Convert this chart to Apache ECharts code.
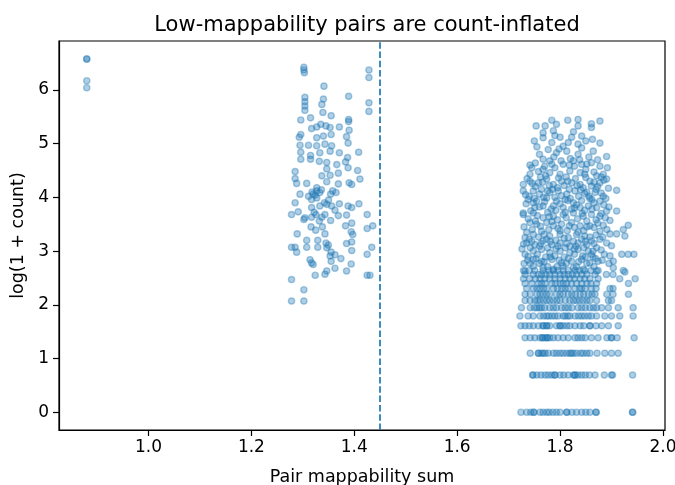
<!DOCTYPE html>
<html>
<head>
<meta charset="utf-8">
<script src="https://cdn.jsdelivr.net/npm/echarts@6/dist/echarts.min.js"></script>
<style>
  html, body { margin: 0; padding: 0; background: #fff; }
  #chart { width: 675px; height: 485px; }
</style>
</head>
<body>
<div id="chart"></div>
<script>
// tick labels
var xTicks = [1.0, 1.2, 1.4, 1.6, 1.8, 2.0];
var yTicks = [0, 1, 2, 3, 4, 5, 6];
var cutoff = 1.45;

// pairs far to the left
var farLeft = [[0.88, 6.57], [0.88, 6.58], [0.88, 6.17], [0.88, 6.04]];

// middle band, x ~ 1.28 - 1.44
var midBand = [
    [1.302, 6.42], [1.302, 6.37], [1.303, 6.32], [1.4285, 6.37], [1.4285, 6.23], [1.341, 6.07],
    [1.304, 5.86], [1.304, 5.78], [1.304, 5.70], [1.304, 5.62], [1.340, 5.83], [1.389, 5.88], [1.337, 5.73],
    [1.4285, 5.76], [1.4285, 5.60], [1.339, 5.58], [1.355, 5.52], [1.296, 5.44], [1.315, 5.48], [1.389, 5.45], [1.389, 5.41],
    [1.335, 5.36], [1.327, 5.31], [1.317, 5.28], [1.345, 5.33], [1.353, 5.30], [1.371, 5.31], [1.390, 5.25],
    [1.296, 5.17], [1.293, 5.12], [1.327, 5.11], [1.340, 5.14], [1.355, 5.17], [1.385, 5.13],
    [1.311, 4.97], [1.2945, 4.97], [1.327, 4.96], [1.343, 4.99], [1.356, 4.96], [1.388, 5.01],
    [1.296, 4.84], [1.315, 4.78], [1.333, 4.83], [1.353, 4.86], [1.371, 4.83], [1.4085, 4.84],
    [1.296, 4.71], [1.315, 4.71], [1.332, 4.67], [1.3465, 4.65], [1.387, 4.74], [1.383, 4.66],
    [1.285, 4.48], [1.3465, 4.53], [1.366, 4.61], [1.4065, 4.50], [1.388, 4.55],
    [1.285, 4.35], [1.337, 4.40], [1.353, 4.41], [1.369, 4.45], [1.395, 4.24], [1.411, 4.34], [1.3075, 4.26], [1.288, 4.26], [1.3465, 4.29],
    [1.327, 4.18], [1.369, 4.25], [1.390, 4.27],
    [1.2945, 4.06], [1.311, 4.02], [1.320, 4.06], [1.327, 4.12], [1.333, 4.09], [1.317, 3.96], [1.358, 4.12], [1.3645, 4.09], [1.354, 4.06], [1.327, 3.99],
    [1.285, 3.90], [1.317, 3.81], [1.333, 3.84], [1.3465, 3.87], [1.356, 3.84], [1.371, 3.88], [1.388, 3.84], [1.395, 3.81], [1.409, 3.88], [1.3625, 3.76],
    [1.278, 3.68], [1.291, 3.73], [1.304, 3.62], [1.317, 3.63], [1.3255, 3.68], [1.337, 3.63], [1.343, 3.68], [1.369, 3.66], [1.385, 3.67], [1.425, 3.68],
    [1.302, 3.59], [1.332, 3.56], [1.354, 3.57], [1.383, 3.47], [1.395, 3.52], [1.394, 3.36], [1.425, 3.42], [1.436, 3.47],
    [1.289, 3.32], [1.325, 3.39], [1.343, 3.32], [1.397, 3.31],
    [1.3075, 3.20], [1.329, 3.20], [1.345, 3.15], [1.3495, 3.11], [1.385, 3.14], [1.395, 3.17],
    [1.278, 3.07], [1.285, 3.07], [1.3075, 3.07], [1.329, 3.07], [1.3465, 3.06], [1.434, 3.07],
    [1.288, 2.98], [1.355, 2.98], [1.3625, 2.93], [1.353, 2.91], [1.395, 3.01], [1.425, 2.94],
    [1.314, 2.84], [1.317, 2.78], [1.320, 2.75], [1.355, 2.81], [1.374, 2.86], [1.394, 2.76],
    [1.3465, 2.63], [1.343, 2.57], [1.3625, 2.68], [1.385, 2.63], [1.324, 2.55], [1.425, 2.55], [1.4305, 2.55],
    [1.278, 2.47], [1.302, 2.28], [1.278, 2.07], [1.302, 2.07],
    [1.318, 4.10], [1.324, 4.04], [1.336, 4.14], [1.350, 3.95], [1.342, 3.90], [1.322, 3.72], [1.338, 3.45], [1.316, 3.45]
];

// right band, upper part (x ~ 1.72 - 1.94)
var rightUpper = [
    [1.784, 5.435], [1.815, 5.435], [1.835, 5.45], [1.861, 5.37], [1.8775, 5.42], [1.7535, 5.33], [1.771, 5.33], [1.793, 5.36], [1.835, 5.33], [1.861, 5.30],
    [1.767, 5.20], [1.787, 5.24], [1.800, 5.12], [1.8225, 5.12], [1.842, 5.14], [1.863, 5.08], [1.8775, 5.01], [1.767, 5.11], [1.835, 4.99], [1.784, 5.02], [1.816, 5.02],
    [1.755, 4.94], [1.777, 4.89], [1.793, 4.83], [1.813, 4.86], [1.835, 4.80], [1.8645, 4.86], [1.8905, 4.76],
    [1.7415, 4.60], [1.767, 4.71], [1.784, 4.615], [1.806, 4.615], [1.826, 4.68], [1.842, 4.615], [1.861, 4.645], [1.8775, 4.58], [1.892, 4.55],
    [1.7415, 4.43], [1.767, 4.52], [1.780, 4.46], [1.800, 4.43], [1.819, 4.49], [1.839, 4.46], [1.848, 4.43], [1.871, 4.40], [1.884, 4.43], [1.8905, 4.34],
    [1.7285, 4.24], [1.7415, 4.30], [1.758, 4.27], [1.774, 4.34], [1.787, 4.24], [1.803, 4.30], [1.8225, 4.27], [1.839, 4.24], [1.858, 4.30], [1.861, 4.21], [1.8775, 4.27], [1.894, 4.17], [1.910, 4.13],
    [1.7285, 4.12], [1.748, 4.12], [1.764, 4.15], [1.780, 4.09], [1.7965, 4.12], [1.813, 4.06], [1.829, 4.12], [1.848, 4.07], [1.868, 4.09], [1.884, 4.02],
    [1.738, 3.96], [1.7545, 3.93], [1.774, 3.99], [1.793, 3.93], [1.810, 3.96], [1.826, 3.90], [1.842, 3.94], [1.858, 3.98], [1.8775, 3.93],
    [1.751, 3.81], [1.767, 3.84], [1.787, 3.84], [1.806, 3.81], [1.8225, 3.78], [1.839, 3.81], [1.855, 3.84], [1.871, 3.81], [1.910, 3.745], [1.7285, 3.71], [1.8905, 3.745],
    [1.7285, 3.68], [1.748, 3.71], [1.767, 3.62], [1.787, 3.65], [1.806, 3.68], [1.826, 3.71], [1.845, 3.65], [1.861, 3.68], [1.8775, 3.65], [1.897, 3.57],
    [1.7415, 3.53], [1.7545, 3.50], [1.774, 3.53], [1.787, 3.47], [1.803, 3.50], [1.8225, 3.53], [1.839, 3.47], [1.858, 3.47], [1.8775, 3.37], [1.897, 3.32], [1.910, 3.32], [1.923, 3.40], [1.9325, 3.48],
    [1.732, 3.25], [1.748, 3.31], [1.764, 3.37], [1.780, 3.28], [1.800, 3.31], [1.816, 3.25], [1.832, 3.31], [1.848, 3.28], [1.861, 3.19], [1.8775, 3.22], [1.926, 3.28],
    [1.735, 3.15], [1.751, 3.12], [1.767, 3.19], [1.784, 3.12], [1.800, 3.15], [1.819, 3.09], [1.835, 3.15], [1.852, 3.12], [1.871, 3.06], [1.8905, 3.15],
    [1.732, 2.94], [1.748, 3.00], [1.764, 3.03], [1.780, 2.97], [1.800, 3.00], [1.819, 2.97], [1.835, 3.03], [1.855, 3.00], [1.861, 2.94], [1.897, 2.91],
    [1.920, 2.94], [1.9325, 2.94], [1.9435, 2.94], [1.9035, 2.81], [1.9035, 2.69],
    [1.748, 2.845], [1.764, 2.81], [1.784, 2.845], [1.803, 2.78], [1.8225, 2.81], [1.842, 2.845], [1.858, 2.78], [1.874, 2.81],
    [1.732, 2.63], [1.748, 2.72], [1.767, 2.69], [1.787, 2.66], [1.806, 2.72], [1.826, 2.69], [1.845, 2.66], [1.871, 2.63], [1.926, 2.61],
    [1.745, 4.55], [1.758, 4.48], [1.772, 4.40], [1.790, 4.55], [1.812, 4.38], [1.828, 4.58], [1.850, 4.52], [1.866, 4.47],
    [1.736, 4.35], [1.752, 4.20], [1.766, 4.28], [1.795, 4.18], [1.808, 4.22], [1.830, 4.35], [1.845, 4.18], [1.870, 4.15], [1.885, 4.32],
    [1.740, 4.02], [1.760, 4.06], [1.776, 4.12], [1.790, 4.00], [1.818, 4.15], [1.836, 4.02], [1.852, 4.10], [1.862, 3.96], [1.880, 4.08],
    [1.734, 3.88], [1.748, 3.90], [1.770, 3.92], [1.783, 3.78], [1.800, 3.88], [1.815, 3.94], [1.832, 3.86], [1.848, 3.76], [1.866, 3.90], [1.885, 3.86],
    [1.738, 3.60], [1.756, 3.66], [1.776, 3.72], [1.795, 3.58], [1.812, 3.62], [1.834, 3.60], [1.852, 3.56], [1.870, 3.58], [1.888, 3.62],
    [1.730, 3.45], [1.746, 3.40], [1.762, 3.46], [1.778, 3.40], [1.796, 3.42], [1.814, 3.38], [1.828, 3.44], [1.846, 3.38], [1.866, 3.44], [1.884, 3.48],
    [1.740, 3.22], [1.758, 3.26], [1.774, 3.22], [1.792, 3.20], [1.808, 3.24], [1.826, 3.18], [1.842, 3.22], [1.858, 3.26], [1.870, 3.30], [1.900, 3.10],
    [1.726, 3.04], [1.742, 3.06], [1.760, 3.09], [1.776, 3.06], [1.792, 3.04], [1.810, 3.06], [1.828, 3.04], [1.846, 3.06], [1.864, 3.00], [1.880, 3.02],
    [1.738, 2.90], [1.756, 2.94], [1.772, 2.89], [1.790, 2.91], [1.808, 2.89], [1.828, 2.94], [1.844, 2.91], [1.864, 2.89], [1.882, 2.83],
    [1.730, 2.77], [1.742, 2.77], [1.760, 2.77], [1.776, 2.71], [1.794, 2.71], [1.812, 2.77], [1.832, 2.71], [1.852, 2.77], [1.866, 2.71], [1.895, 2.77],
    [1.750, 5.05], [1.790, 5.15], [1.826, 5.22], [1.850, 5.05], [1.806, 4.95], [1.760, 4.80], [1.820, 4.72], [1.856, 4.75], [1.780, 4.68],
    [1.737, 2.83], [1.753, 2.86], [1.769, 2.80], [1.781, 2.89], [1.798, 2.83], [1.816, 2.86], [1.836, 2.80], [1.849, 2.89], [1.869, 2.86], [1.886, 2.94],
    [1.729, 3.13], [1.745, 3.18], [1.763, 3.14], [1.781, 3.18], [1.796, 3.09], [1.813, 3.14], [1.831, 3.09], [1.849, 3.18], [1.866, 3.14], [1.883, 3.26],
    [1.735, 3.35], [1.752, 3.56], [1.769, 3.31], [1.784, 3.55], [1.800, 3.38], [1.818, 3.47], [1.835, 3.35], [1.852, 3.45], [1.873, 3.52], [1.891, 3.40],
    [1.743, 3.75], [1.760, 3.82], [1.779, 3.64], [1.792, 3.76], [1.810, 3.72], [1.828, 3.80], [1.843, 3.70], [1.862, 3.78], [1.880, 3.70], [1.895, 3.82],
    [1.733, 4.05], [1.750, 3.98], [1.768, 4.00], [1.785, 4.15], [1.803, 4.03], [1.820, 3.98], [1.840, 4.14], [1.856, 4.02], [1.873, 4.20], [1.889, 3.98],
    [1.746, 4.26], [1.762, 4.38], [1.779, 4.22], [1.797, 4.36], [1.815, 4.30], [1.833, 4.22], [1.850, 4.37], [1.866, 4.28], [1.880, 4.38],
    [1.752, 4.64], [1.770, 4.58], [1.788, 4.75], [1.802, 4.68], [1.818, 4.60], [1.838, 4.70], [1.852, 4.62], [1.873, 4.70], [1.798, 4.90], [1.842, 4.92]
];

// right band, low counts sit on discrete rows: log(1 + n), n = 0..13
var levelY = [0, 0.693, 1.099, 1.386, 1.609, 1.792, 1.946, 2.079, 2.197, 2.303, 2.398, 2.485, 2.565, 2.639];
var levelX = [
    [1.724, 1.735, 1.743, 1.749, 1.761, 1.767, 1.774, 1.779, 1.786, 1.793, 1.800, 1.813, 1.823, 1.832, 1.842, 1.850, 1.858, 1.870, 1.941, 1.749, 1.813, 1.870, 1.941],
    [1.747, 1.755, 1.763, 1.771, 1.777, 1.784, 1.790, 1.800, 1.807, 1.816, 1.826, 1.829, 1.835, 1.842, 1.849, 1.857, 1.868, 1.886, 1.900, 1.902, 1.941, 1.747, 1.790, 1.829],
    [1.742, 1.758, 1.764, 1.771, 1.777, 1.787, 1.793, 1.800, 1.806, 1.813, 1.819, 1.826, 1.832, 1.845, 1.852, 1.858, 1.872, 1.887, 1.900, 1.913, 1.758, 1.767, 1.822, 1.840],
    [1.732, 1.742, 1.751, 1.761, 1.766, 1.771, 1.775, 1.780, 1.787, 1.796, 1.806, 1.816, 1.829, 1.835, 1.842, 1.849, 1.861, 1.874, 1.891, 1.900, 1.911, 1.944, 1.766, 1.775, 1.900],
    [1.724, 1.732, 1.740, 1.748, 1.758, 1.767, 1.774, 1.780, 1.793, 1.800, 1.806, 1.813, 1.819, 1.829, 1.839, 1.846, 1.858, 1.870, 1.881, 1.894, 1.913, 1.767, 1.774, 1.800, 1.858],
    [1.722, 1.738, 1.761, 1.774, 1.784, 1.790, 1.806, 1.810, 1.819, 1.829, 1.842, 1.855, 1.861, 1.871, 1.887, 1.900, 1.916, 1.942, 1.748, 1.768, 1.796, 1.836, 1.848, 1.778, 1.815],
    [1.725, 1.742, 1.755, 1.764, 1.780, 1.793, 1.810, 1.823, 1.835, 1.849, 1.858, 1.871, 1.881, 1.894, 1.913, 1.942, 1.750, 1.770, 1.787, 1.803, 1.842, 1.865, 1.760, 1.816],
    [1.732, 1.742, 1.751, 1.761, 1.774, 1.787, 1.800, 1.810, 1.819, 1.832, 1.845, 1.858, 1.871, 1.894, 1.900, 1.768, 1.780, 1.826, 1.852, 1.756, 1.794, 1.838],
    [1.732, 1.742, 1.755, 1.767, 1.780, 1.793, 1.806, 1.823, 1.839, 1.855, 1.868, 1.891, 1.903, 1.933, 1.761, 1.800, 1.816, 1.846, 1.774, 1.830, 1.862],
    [1.735, 1.748, 1.761, 1.774, 1.787, 1.803, 1.816, 1.829, 1.849, 1.861, 1.897, 1.903, 1.755, 1.795, 1.838, 1.768, 1.810, 1.842, 1.870],
    [1.732, 1.745, 1.758, 1.771, 1.784, 1.800, 1.813, 1.832, 1.852, 1.871, 1.933, 1.764, 1.822, 1.842, 1.791, 1.806, 1.860],
    [1.729, 1.741, 1.761, 1.780, 1.800, 1.819, 1.839, 1.858, 1.874, 1.916, 1.946, 1.752, 1.790, 1.810, 1.770, 1.828, 1.848],
    [1.732, 1.748, 1.764, 1.780, 1.800, 1.816, 1.832, 1.852, 1.868, 1.890, 1.903, 1.758, 1.790, 1.842, 1.772, 1.808, 1.824],
    [1.729, 1.751, 1.767, 1.787, 1.806, 1.829, 1.848, 1.874, 1.923, 1.740, 1.796, 1.838, 1.860, 1.778, 1.816]
];

var points = farLeft.concat(midBand, rightUpper);
levelY.forEach(function (y, i) {
    levelX[i].forEach(function (x) {
        points.push([x, y]);
    });
});

var blue = '#1f77b4';
var font = 'DejaVu Sans';
var axisLine = { show: true, onZero: false, lineStyle: { color: '#000', width: 1.2 } };

var chart = echarts.init(document.getElementById('chart'), null, { renderer: 'canvas' });
var option = {
    animation: false,
    backgroundColor: '#fff',
    title: {
        text: 'Low-mappability pairs are count-inflated',
        left: 362,
        textAlign: 'center',
        top: 10,
        textStyle: { fontFamily: font, fontSize: 21, fontWeight: 'normal', color: '#000' }
    },
    grid: {
        left: 59, right: 10, top: 41, bottom: 55,
        outerBoundsMode: 'none',
        show: true, borderColor: '#000', borderWidth: 1.2, backgroundColor: 'transparent'
    },
    xAxis: {
        type: 'value',
        min: 0.826,
        max: 2.004,
        name: 'Pair mappability sum',
        nameLocation: 'middle',
        nameGap: 38,
        nameTextStyle: { fontFamily: font, fontSize: 17.5, color: '#000' },
        axisLine: axisLine,
        axisTick: { show: true, length: 6, lineStyle: { color: '#000', width: 1.2 }, customValues: xTicks },
        axisLabel: {
            color: '#000', fontFamily: font, fontSize: 17, margin: 9,
            customValues: xTicks,
            formatter: function (v) { return v.toFixed(1); }
        },
        splitLine: { show: false }
    },
    yAxis: {
        type: 'value',
        min: -0.33,
        max: 6.91,
        name: 'log(1 + count)',
        nameLocation: 'middle',
        nameGap: 31,
        nameRotate: 90,
        nameTextStyle: { fontFamily: font, fontSize: 17.5, color: '#000' },
        axisLine: axisLine,
        axisTick: { show: true, length: 6, lineStyle: { color: '#000', width: 1.2 }, customValues: yTicks },
        axisLabel: {
            color: '#000', fontFamily: font, fontSize: 17, margin: 10,
            customValues: yTicks,
            formatter: function (v) { return String(v); }
        },
        splitLine: { show: false }
    },
    series: [{
        type: 'scatter',
        data: points,
        symbol: 'circle',
        symbolSize: 6.2,
        itemStyle: {
            color: 'rgba(31,119,180,0.44)',
            borderColor: 'rgba(31,119,180,0.48)',
            borderWidth: 1.4
        },
        markLine: {
            silent: true,
            symbol: 'none',
            label: { show: false },
            lineStyle: { color: blue, width: 1.7, type: [6.5, 2.8] },
            data: [{ xAxis: cutoff }]
        }
    }]
};
chart.setOption(option);
</script>
</body>
</html>
